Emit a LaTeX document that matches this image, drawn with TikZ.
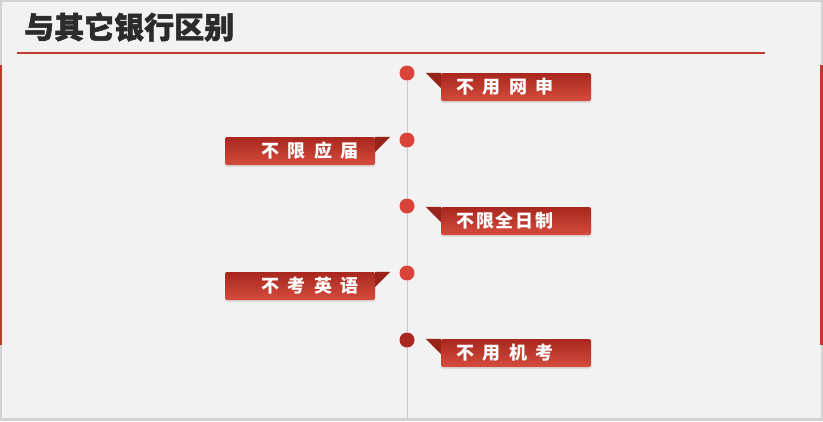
\documentclass[tikz,border=0pt]{standalone}
\usepackage{fontspec}
\setmainfont{Noto Sans CJK SC}[WordSpace=2]
\newfontfamily\titlefont{Noto Sans CJK SC}[BoldFeatures={FakeBold=1.6}]
\usetikzlibrary{positioning,calc,shadows}

\definecolor{bggray}{HTML}{F2F2F2}
\definecolor{framegray}{HTML}{D2D2D2}
\definecolor{rulered}{HTML}{C0392B}
\definecolor{dotred}{HTML}{D8433A}
\definecolor{darkdot}{HTML}{A9281F}
\definecolor{boxtop}{HTML}{A8271E}
\definecolor{boxbot}{HTML}{D44C3D}
\definecolor{spinegray}{HTML}{C9C9C9}
\definecolor{titlegray}{HTML}{2B2B2B}

\begin{document}
\begin{tikzpicture}[x=1pt,y=-1pt,
    dot/.style={circle, fill=dotred, minimum size=15pt, inner sep=0pt},
    tag/.style={rounded corners=2pt, minimum width=150pt, minimum height=28pt, inner sep=0pt,
      top color=boxtop, bottom color=boxbot,
      drop shadow={shadow xshift=0pt, shadow yshift=-2pt, opacity=0.18}},
    tail/.style={fill=boxtop!90!black},
    tagtext/.style={text=white, font=\bfseries\fontsize{18}{18}\selectfont},
    spine/.style={draw=spinegray, line width=1pt}]

% frame and page
\fill[framegray] (0,0) rectangle (823,421);
\fill[bggray] (2,2) rectangle (821,418);
\fill[rulered] (0,65) rectangle (2,345);
\fill[rulered] (820,65) rectangle (823,345);

% title
\node[anchor=west, text=titlegray, font=\titlefont\bfseries\fontsize{30}{30}\selectfont, inner sep=0pt] (title) at (24,27) {与其它银行区别};
\draw[rulered, line width=2pt] (17,53) -- (765,53);

% timeline
\coordinate (bot) at (407,418);
\node[dot] (d1) at (407,73) {};
\node[dot] (d2) at (407,140) {};
\node[dot] (d3) at (407,206) {};
\node[dot] (d4) at (407,273) {};
\node[dot, fill=darkdot] (d5) at (407,340) {};
\draw[spine] (d1.south) -- (d2.north) (d2.south) -- (d3.north) (d3.south) -- (d4.north)
  (d4.south) -- (d5.north) (d5.south) -- (bot);

% right tags
\foreach \n/\y/\txt in {1/73/不 用 网 申, 3/207/\addfontfeature{LetterSpace=10}不限全日制, 5/339/不 用 机 考}{
  \node[tag] (b\n) at (516,\y+14) {};
  \fill[tail] ($(b\n.north west)+(-15,0)$) -- (b\n.north west) -- ($(b\n.north west)+(0,15)$) -- cycle;
  \node[tagtext] (t\n) at ($(b\n.center)+(-11,0)$) {\txt};
}
% left tags
\foreach \n/\y/\txt in {2/137/不 限 应 届, 4/272/不 考 英 语}{
  \node[tag] (b\n) at (300,\y+14) {};
  \fill[tail] ($(b\n.north east)+(15,0)$) -- (b\n.north east) -- ($(b\n.north east)+(0,15)$) -- cycle;
  \node[tagtext] (t\n) at ($(b\n.center)+(10,0)$) {\txt};
}
\end{tikzpicture}
\end{document}
